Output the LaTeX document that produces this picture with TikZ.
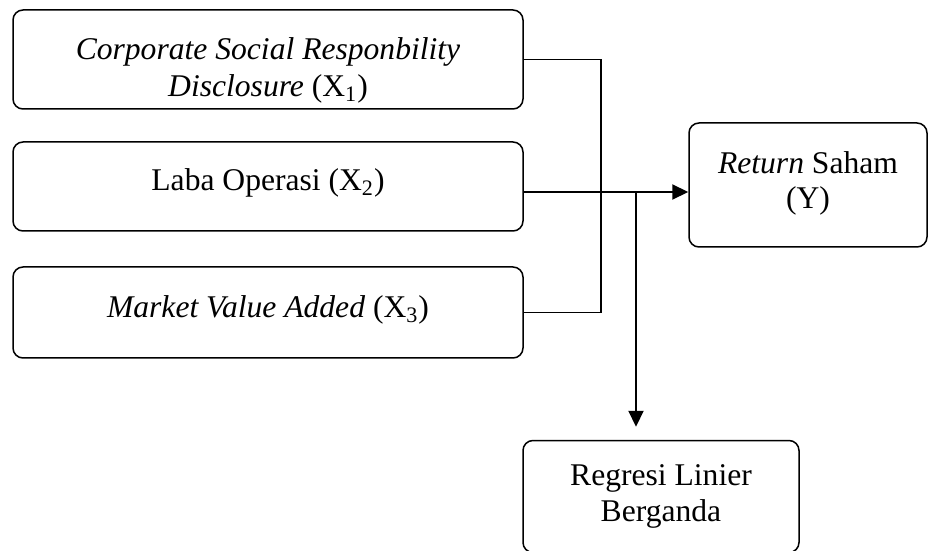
\documentclass[tikz,border=0pt]{standalone}
\usepackage{fontspec}
\setmainfont{Liberation Serif}
\usetikzlibrary{arrows.meta}

\tikzset{
  varbox/.style={draw, rounded corners=5pt, line width=0.75pt, align=center, inner sep=0pt,
    font=\fontsize{15.8}{18}\selectfont},
  thinline/.style={line width=0.65pt},
  arr/.style={line width=1.1pt, -{Triangle[length=8pt,width=7.5pt]}}
}

\begin{document}
\begin{tikzpicture}[x=0.5pt,y=-0.5pt]
  \useasboundingbox (0,0) rectangle (928,551);

  % Draw the independent variables
  \node[varbox, minimum width=255pt, minimum height=49.5pt, text height=41pt, text depth=4pt,
    font=\fontsize{15.8}{18.5}\selectfont] (x1) at (268,59.5)
    {\textit{Corporate Social Responbility}\\ \textit{Disclosure} (X\textsubscript{1})};
  \node[varbox, minimum width=255pt, minimum height=44.5pt, text height=11pt, text depth=7pt] (x2) at (268,186.5)
    {Laba Operasi (X\textsubscript{2})};
  \node[varbox, minimum width=255pt, minimum height=45.5pt, text height=11pt, text depth=6pt] (x3) at (268,312.5)
    {\textit{Market Value Added} (X\textsubscript{3})};

  % Draw the dependent variable and the method
  \node[varbox, minimum width=119pt, minimum height=62pt, text height=27.4pt, text depth=4pt,
    font=\fontsize{15.8}{17.5}\selectfont] (y) at (808,185)
    {\textit{Return} Saham\\ (Y)};
  \node[varbox, minimum width=138pt, minimum height=56pt] (reg) at (661,496.5)
    {Regresi Linier\\ Berganda};

  % Draw the bracket joining X1 and X3
  \coordinate (brk) at (601,0);
  \draw[thinline] (x1.east) -- (x1.east -| brk) |- (x3.east);

  % Draw the arrows
  \draw[arr] ([yshift=-2.75pt]x2.east) -- ([yshift=-2.75pt]x2.east -| y.west);
  \coordinate (split) at (636,192);
  \draw[arr, shorten >=6.5pt] (split) -- (split |- reg.north);
\end{tikzpicture}
\end{document}
